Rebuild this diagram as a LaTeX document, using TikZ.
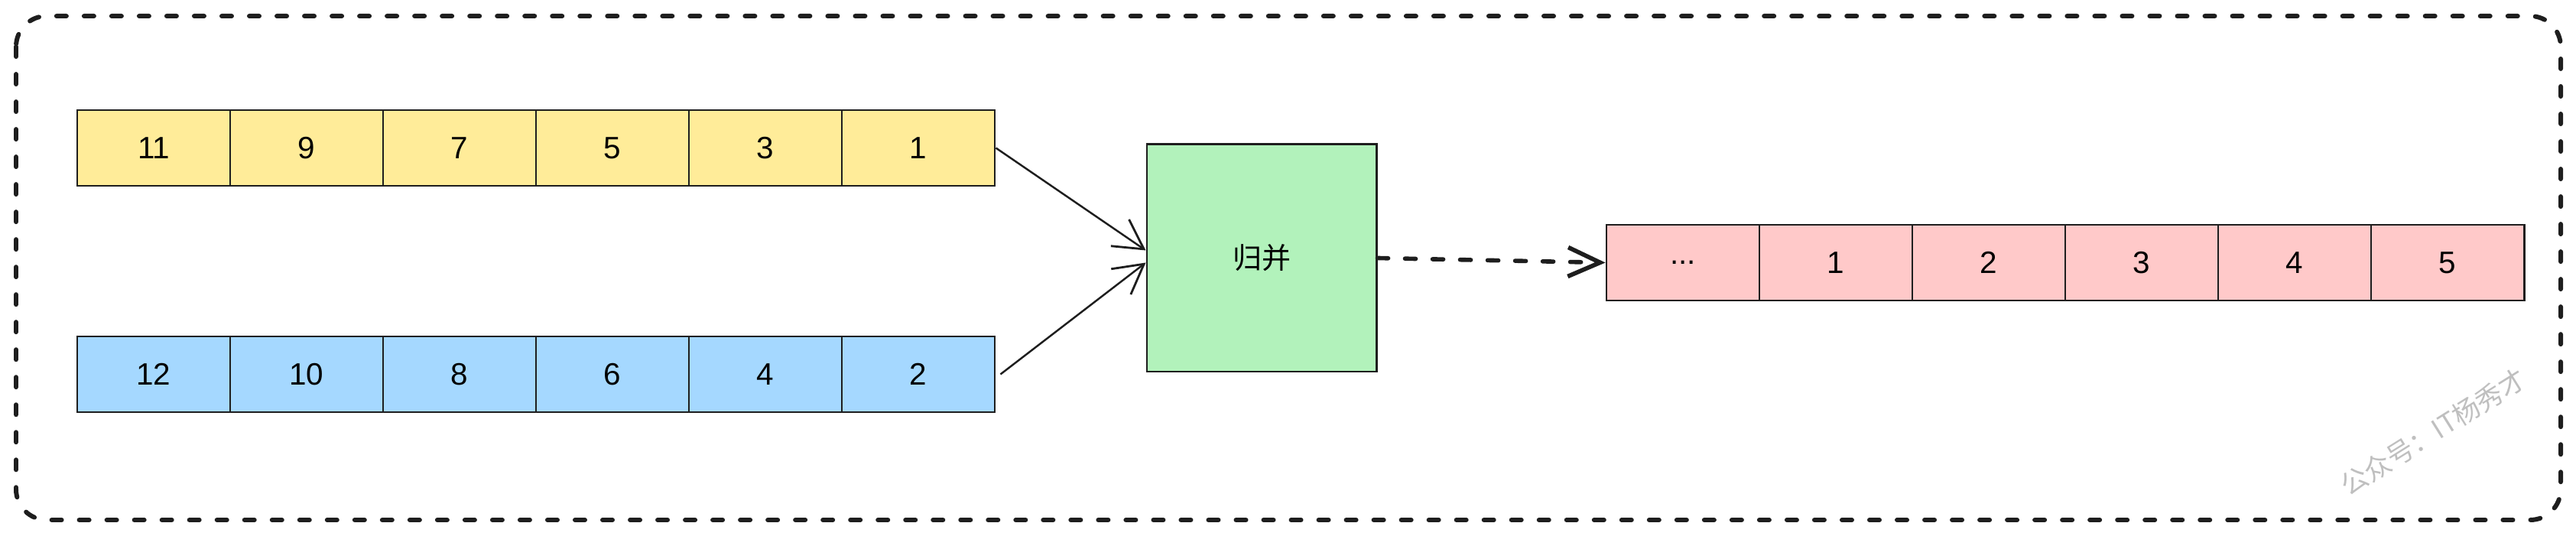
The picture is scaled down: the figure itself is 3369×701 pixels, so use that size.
\documentclass[tikz,border=0pt]{standalone}
\usepackage{fontspec}
\setmainfont{Liberation Sans}
\newfontfamily\cjk{Noto Sans CJK SC}
\usetikzlibrary{arrows.meta,calc}
\definecolor{cyellow}{HTML}{FFEC99}
\definecolor{cblue}{HTML}{A5D8FF}
\definecolor{cgreen}{HTML}{B2F2BB}
\definecolor{cpink}{HTML}{FFC9C9}
\definecolor{ink}{HTML}{1E1E1E}
\tikzset{
  cell/.style={draw=ink, line width=0.8pt, minimum width=2cm, minimum height=0.99cm, inner sep=0pt, font=\fontsize{11.5}{14}\selectfont},
  ycell/.style={cell, fill=cyellow},
  bcell/.style={cell, fill=cblue},
  pcell/.style={cell, fill=cpink},
  mergebox/.style={draw=ink, line width=0.8pt, fill=cgreen, minimum width=3cm, minimum height=2.97cm, inner sep=0pt, font=\cjk\fontsize{10.8}{13}\selectfont},
  thinarrow/.style={draw=ink, line width=0.7pt, -{Straight Barb[length=0.38cm, width=0.42cm, line width=0.8pt]}},
  dasharrow/.style={draw=ink, line width=1.6pt, line cap=round, dash pattern=on 0.14cm off 0.22cm, -{Straight Barb[length=0.42cm, width=0.38cm, line width=1.6pt]}},
  frame/.style={draw=ink, line width=1.7pt, line cap=round, dash pattern=on 0.13cm off 0.23cm, rounded corners=0.4cm},
}
\begin{document}
\begin{tikzpicture}[x=0.01cm, y=-0.01cm]
\useasboundingbox (0,0) rectangle (3369,701);
\draw[frame] (21,21) rectangle (3349,680);

% yellow row
\foreach \v [count=\i] in {11,9,7,5,3,1} {
  \node[ycell] (y\i) at ({1+200*\i},193.5) {\v};
}
% blue row
\foreach \v [count=\i] in {12,10,8,6,4,2} {
  \node[bcell] (b\i) at ({1+200*\i},489.5) {\v};
}
% pink row
\node[pcell] (p1) at (2201,343.5) {...};
\foreach \v [count=\i from 2] in {1,2,3,4,5} {
  \node[pcell] (p\i) at ({2001+200*\i},343.5) {\v};
}
\node[mergebox] (g) at (1650,337.5) {归并};

\coordinate (gin1) at ($(g.west)+(0,-10)$);
\coordinate (gin2) at ($(g.west)+(0,6)$);
\coordinate (bout) at ($(b6.east)+(6,0)$);
\draw[thinarrow] (y6.east) -- (gin1);
\draw[thinarrow] (bout) -- (gin2);
\draw[dasharrow] (g.east) -- (p1.west);

\node[font=\cjk\fontsize{10}{12}\selectfont, text=black!25, rotate=32] (wm) at (3182,565) {公众号：IT杨秀才};
\end{tikzpicture}
\end{document}
